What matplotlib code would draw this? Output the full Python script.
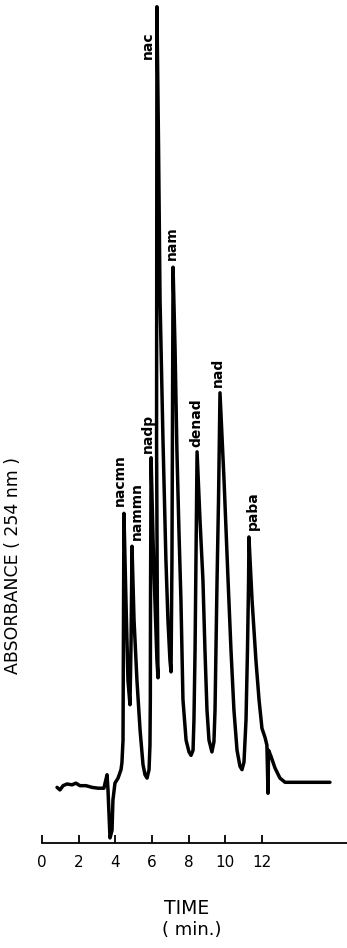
"""Chromatogram of nicotinamide metabolites, absorbance at 254 nm."""

import matplotlib.pyplot as plt

# trace: time (min) vs relative absorbance
time_min = [
    0.82, 0.98, 1.15, 1.36, 1.64, 1.85, 2.07, 2.40, 2.73, 3.06,
    3.38, 3.44, 3.55, 3.60, 3.71, 3.82, 3.87, 3.98, 4.15, 4.31,
    4.36, 4.42, 4.45, 4.47, 4.58, 4.69, 4.80, 4.86, 4.91, 5.02,
    5.18, 5.35, 5.51, 5.62, 5.73, 5.84, 5.89, 5.91, 5.92, 5.95,
    6.06, 6.16, 6.27, 6.33, 6.29, 6.25, 6.27, 6.36, 6.44, 6.60,
    6.76, 6.87, 6.98, 7.04, 7.09, 7.15, 7.26, 7.36, 7.47, 7.58,
    7.69, 7.86, 8.02, 8.13, 8.24, 8.29, 8.35, 8.40, 8.46, 8.62,
    8.78, 8.89, 9.00, 9.11, 9.27, 9.38, 9.44, 9.49, 9.55, 9.63,
    9.71, 9.93, 10.15, 10.31, 10.47, 10.64, 10.80, 10.91, 11.02, 11.13,
    11.21, 11.27, 11.29, 11.35, 11.46, 11.67, 11.84, 12.00, 12.17, 12.27,
    12.33, 12.36, 12.49, 12.71, 12.98, 13.26, 15.71,
]
absorbance = [
    6.6, 6.3, 6.8, 7.0, 6.9, 7.1, 6.8, 6.8, 6.6, 6.5,
    6.5, 7.1, 8.1, 6.3, 0.6, 1.5, 5.1, 7.1, 7.7, 8.7,
    9.5, 12.2, 28.8, 39.1, 28.8, 19.3, 16.4, 24.1, 35.2, 26.5,
    19.3, 13.4, 9.3, 8.1, 7.7, 8.7, 11.6, 17.0, 28.8, 45.7,
    35.9, 28.8, 21.7, 19.6, 28.8, 47.8, 99.2, 82.2, 64.4, 47.8,
    33.6, 26.5, 21.7, 20.3, 33.6, 68.3, 58.5, 46.6, 37.1, 28.8,
    17.0, 12.2, 10.8, 10.4, 11.0, 14.6, 22.9, 33.6, 46.4, 38.3,
    31.2, 22.9, 15.8, 12.2, 10.8, 12.0, 15.8, 22.9, 31.2, 40.7,
    53.4, 43.1, 31.2, 22.9, 15.8, 11.0, 9.1, 8.7, 9.6, 14.6,
    22.9, 31.2, 36.3, 33.6, 28.8, 21.7, 17.0, 13.6, 12.5, 11.6,
    5.9, 11.0, 10.3, 8.9, 7.7, 7.2, 7.2,
]

# identified peaks
peak_names = ["nacmn", "nammn", "nadp", "nac", "nam", "denad", "nad", "paba"]
peak_time = [4.47, 4.91, 5.95, 6.27, 7.15, 8.46, 9.71, 11.29]
peak_abs = [39.1, 35.2, 45.7, 99.2, 68.3, 46.4, 53.4, 36.3]

xticks = [0, 2, 4, 6, 8, 10, 12]

# label offsets (points) from each peak tip
label_offset = {
    "nacmn": (-3, 5.5), "nammn": (3.6, 4.3), "nadp": (-2.2, 3.6),
    "nac": (-6.5, -18), "nam": (-0.7, 5), "denad": (-0.7, 3.6),
    "nad": (-1.4, 4.3), "paba": (2.9, 5),
}

fig = plt.figure(figsize=(3.47, 9.48), dpi=100)
ax = fig.add_axes([42 / 347, 105 / 948, 305 / 347, 843 / 948])

ax.plot(time_min, absorbance, color="black", lw=2.5,
        solid_joinstyle="round", solid_capstyle="round")

for name, t, a in zip(peak_names, peak_time, peak_abs):
    dx, dy = label_offset[name]
    ax.annotate(name, (t, a), xytext=(dx, dy), textcoords="offset points",
                rotation=90, ha="center", va="top" if name == "nac" else "bottom",
                fontsize=10, fontweight="bold", family="DejaVu Sans")

ax.set_xlim(0, 305 / 18.33)
ax.set_ylim(0, 100)
for side in ["top", "right", "left"]:
    ax.spines[side].set_visible(False)
ax.spines["bottom"].set_linewidth(1.3)
ax.set_yticks([])
ax.set_xticks(xticks)
ax.tick_params(axis="x", direction="in", length=6, width=1.3, pad=8.5,
               labelsize=11)

fig.text(13 / 347, 1 - 565 / 948, "ABSORBANCE ( 254 nm )", rotation=90,
         ha="center", va="center", fontsize=12.5, family="DejaVu Sans")
fig.text(187 / 347, 1 - 909 / 948, "TIME", ha="center", va="center",
         fontsize=13.5)
fig.text(192 / 347, 1 - 930 / 948, "( min.)", ha="center", va="center",
         fontsize=13)

plt.savefig("out.png", dpi=100)
